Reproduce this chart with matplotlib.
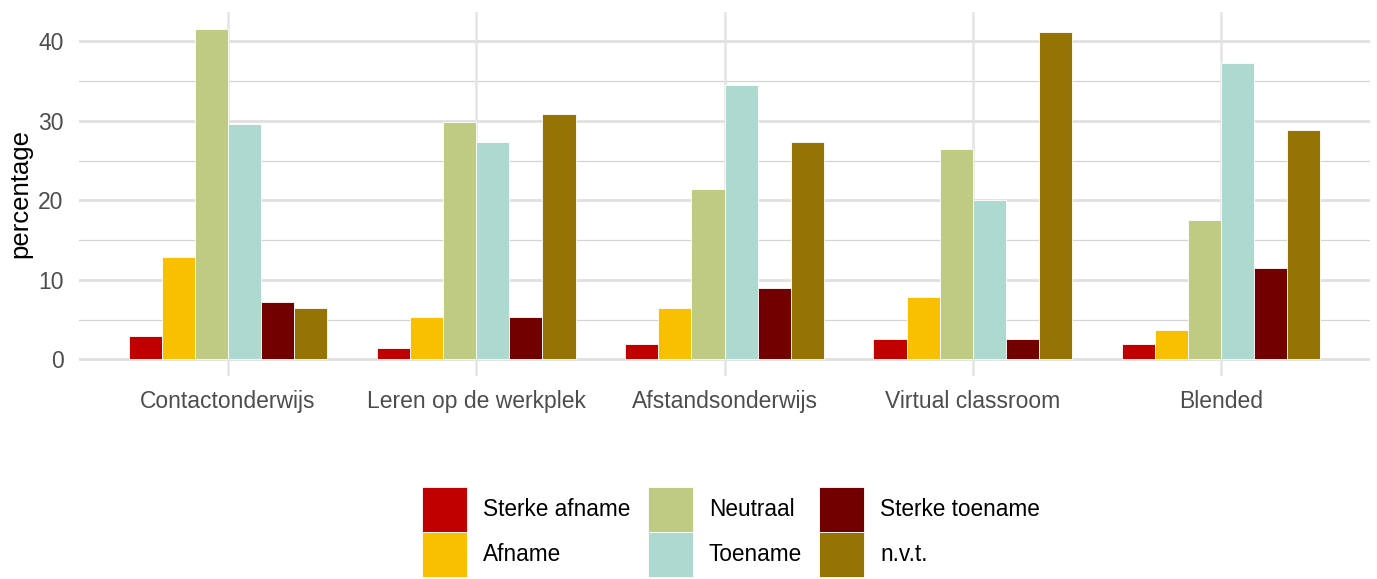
import matplotlib
matplotlib.use("Agg")
import matplotlib.pyplot as plt
from matplotlib.patches import Patch
import numpy as np

plt.rcParams['font.family'] = ['Liberation Sans', 'DejaVu Sans']

categories = ["Contactonderwijs", "Leren op de werkplek", "Afstandsonderwijs",
              "Virtual classroom", "Blended"]
series = ["Sterke afname", "Afname", "Neutraal", "Toename", "Sterke toename", "n.v.t."]
colors = ["#C00000", "#F8C000", "#BFCA82", "#AED9CF", "#720000", "#967305"]

sterke_afname = [3.0, 1.5, 1.9, 2.6, 1.9]
afname = [12.9, 5.4, 6.5, 7.9, 3.7]
neutraal = [41.6, 29.9, 21.4, 26.4, 17.5]
toename = [29.6, 27.4, 34.5, 20.0, 37.3]
sterke_toename = [7.2, 5.4, 9.0, 2.6, 11.5]
nvt = [6.5, 30.9, 27.4, 41.2, 28.9]
values = [sterke_afname, afname, neutraal, toename, sterke_toename, nvt]

fig = plt.figure(figsize=(13.77, 5.79), dpi=100)
ax = fig.add_axes([79/1377, 1-376/579, (1370-79)/1377, (376-12)/579])

x = np.arange(1, len(categories)+1)
n = len(series)
w = 0.8 / n

# grid
for yv in [5, 15, 25, 35]:
    ax.axhline(yv, color="#d4d4d4", lw=0.9, zorder=0)
for yv in [0, 10, 20, 30, 40]:
    ax.axhline(yv, color="#e0e0e0", lw=2.0, zorder=0)
for xv in x:
    ax.axvline(xv, color="#e4e4e4", lw=1.8, zorder=0)

for j, (s, vals, c) in enumerate(zip(series, values, colors)):
    ax.bar(x + (j - (n-1)/2) * w, vals, width=w, color=c, edgecolor="white",
           linewidth=0.6, zorder=2, label=s)

ymax = max(max(v) for v in values)
ax.set_ylim(-0.05*ymax, ymax*1.05)
ax.set_xlim(0.4, len(categories)+0.6)
ax.set_xticks(x)
ax.set_xticklabels(categories)
ax.set_yticks([0, 10, 20, 30, 40])
ax.tick_params(axis='both', length=0, labelsize=16.5, labelcolor="#4d4d4d")
ax.tick_params(axis='x', pad=10)
ax.tick_params(axis='y', pad=11)
ax.set_ylabel("percentage", fontsize=18.5, color="black", labelpad=4)
for sp in ax.spines.values():
    sp.set_visible(False)
ax.set_facecolor("white")

handles = [Patch(facecolor=c, edgecolor="white", linewidth=0.6) for c in colors]
leg = fig.legend(handles, series, loc="center", bbox_to_anchor=(731/1377, 1-532/579),
                 ncol=3, frameon=False, fontsize=16.3, handlelength=2.0,
                 handleheight=2.69, handletextpad=0.7, columnspacing=0.75,
                 labelspacing=0.0, borderpad=0)

fig.savefig("out.png", dpi=100)
